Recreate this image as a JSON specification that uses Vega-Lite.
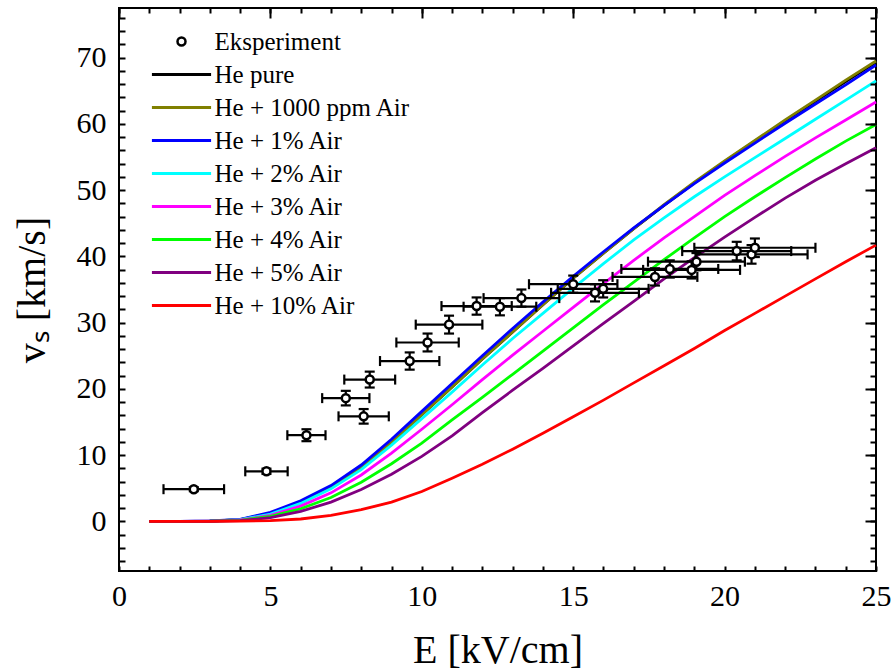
{
  "$schema": "https://vega.github.io/schema/vega-lite/v6.json",
  "width": 757,
  "height": 563,
  "autosize": {"type": "none"},
  "padding": {"left": 119, "top": 8, "right": 17, "bottom": 99},
  "background": "white",
  "config": {
    "view": {"stroke": "black", "strokeWidth": 2},
    "axis": {"zindex": 1, "domain": false, "grid": false, "tickColor": "black", "tickWidth": 2, "labelColor": "black", "titleColor": "black", "labelFont": "Liberation Serif", "titleFont": "Liberation Serif", "labelFontSize": 30, "titleFontSize": 40, "titleFontWeight": "normal"},
    "legend": {"labelFont": "Liberation Serif", "labelColor": "black"}
  },
  "datasets": {
    "curves": [
      {"series": "He pure", "E": 1, "v": 0}, {"series": "He pure", "E": 2, "v": 0}, {"series": "He pure", "E": 3, "v": 0.04}, {"series": "He pure", "E": 4, "v": 0.25}, {"series": "He pure", "E": 5, "v": 1.2}, {"series": "He pure", "E": 6, "v": 2.9}, {"series": "He pure", "E": 7, "v": 5.1}, {"series": "He pure", "E": 8, "v": 8.1}, {"series": "He pure", "E": 9, "v": 11.9}, {"series": "He pure", "E": 10, "v": 16.1}, {"series": "He pure", "E": 11, "v": 20.3}, {"series": "He pure", "E": 12, "v": 24.5}, {"series": "He pure", "E": 13, "v": 28.6}, {"series": "He pure", "E": 14, "v": 32.7}, {"series": "He pure", "E": 15, "v": 36.7}, {"series": "He pure", "E": 16, "v": 40.5}, {"series": "He pure", "E": 17, "v": 44.2}, {"series": "He pure", "E": 18, "v": 47.7}, {"series": "He pure", "E": 19, "v": 51.1}, {"series": "He pure", "E": 20, "v": 54.3}, {"series": "He pure", "E": 21, "v": 57.4}, {"series": "He pure", "E": 22, "v": 60.4}, {"series": "He pure", "E": 23, "v": 63.4}, {"series": "He pure", "E": 24, "v": 66.4}, {"series": "He pure", "E": 25, "v": 69.3},
      {"series": "He + 1000 ppm Air", "E": 1, "v": 0}, {"series": "He + 1000 ppm Air", "E": 2, "v": 0}, {"series": "He + 1000 ppm Air", "E": 3, "v": 0.04}, {"series": "He + 1000 ppm Air", "E": 4, "v": 0.25}, {"series": "He + 1000 ppm Air", "E": 5, "v": 1.2}, {"series": "He + 1000 ppm Air", "E": 6, "v": 2.9}, {"series": "He + 1000 ppm Air", "E": 7, "v": 5.1}, {"series": "He + 1000 ppm Air", "E": 8, "v": 8.1}, {"series": "He + 1000 ppm Air", "E": 9, "v": 11.9}, {"series": "He + 1000 ppm Air", "E": 10, "v": 16.1}, {"series": "He + 1000 ppm Air", "E": 11, "v": 20.3}, {"series": "He + 1000 ppm Air", "E": 12, "v": 24.5}, {"series": "He + 1000 ppm Air", "E": 13, "v": 28.6}, {"series": "He + 1000 ppm Air", "E": 14, "v": 32.7}, {"series": "He + 1000 ppm Air", "E": 15, "v": 36.7}, {"series": "He + 1000 ppm Air", "E": 16, "v": 40.5}, {"series": "He + 1000 ppm Air", "E": 17, "v": 44.2}, {"series": "He + 1000 ppm Air", "E": 18, "v": 47.8}, {"series": "He + 1000 ppm Air", "E": 19, "v": 51.2}, {"series": "He + 1000 ppm Air", "E": 20, "v": 54.4}, {"series": "He + 1000 ppm Air", "E": 21, "v": 57.5}, {"series": "He + 1000 ppm Air", "E": 22, "v": 60.6}, {"series": "He + 1000 ppm Air", "E": 23, "v": 63.6}, {"series": "He + 1000 ppm Air", "E": 24, "v": 66.6}, {"series": "He + 1000 ppm Air", "E": 25, "v": 69.5},
      {"series": "He + 1% Air", "E": 1, "v": 0}, {"series": "He + 1% Air", "E": 2, "v": 0}, {"series": "He + 1% Air", "E": 3, "v": 0.05}, {"series": "He + 1% Air", "E": 4, "v": 0.3}, {"series": "He + 1% Air", "E": 5, "v": 1.35}, {"series": "He + 1% Air", "E": 6, "v": 3.1}, {"series": "He + 1% Air", "E": 7, "v": 5.4}, {"series": "He + 1% Air", "E": 8, "v": 8.5}, {"series": "He + 1% Air", "E": 9, "v": 12.4}, {"series": "He + 1% Air", "E": 10, "v": 16.6}, {"series": "He + 1% Air", "E": 11, "v": 20.8}, {"series": "He + 1% Air", "E": 12, "v": 25.0}, {"series": "He + 1% Air", "E": 13, "v": 29.1}, {"series": "He + 1% Air", "E": 14, "v": 33.1}, {"series": "He + 1% Air", "E": 15, "v": 37.0}, {"series": "He + 1% Air", "E": 16, "v": 40.7}, {"series": "He + 1% Air", "E": 17, "v": 44.3}, {"series": "He + 1% Air", "E": 18, "v": 47.7}, {"series": "He + 1% Air", "E": 19, "v": 51.0}, {"series": "He + 1% Air", "E": 20, "v": 54.1}, {"series": "He + 1% Air", "E": 21, "v": 57.1}, {"series": "He + 1% Air", "E": 22, "v": 60.1}, {"series": "He + 1% Air", "E": 23, "v": 63.0}, {"series": "He + 1% Air", "E": 24, "v": 65.9}, {"series": "He + 1% Air", "E": 25, "v": 68.9},
      {"series": "He + 2% Air", "E": 1, "v": 0}, {"series": "He + 2% Air", "E": 2, "v": 0}, {"series": "He + 2% Air", "E": 3, "v": 0.03}, {"series": "He + 2% Air", "E": 4, "v": 0.25}, {"series": "He + 2% Air", "E": 5, "v": 1.1}, {"series": "He + 2% Air", "E": 6, "v": 2.7}, {"series": "He + 2% Air", "E": 7, "v": 4.9}, {"series": "He + 2% Air", "E": 8, "v": 7.8}, {"series": "He + 2% Air", "E": 9, "v": 11.5}, {"series": "He + 2% Air", "E": 10, "v": 15.5}, {"series": "He + 2% Air", "E": 11, "v": 19.5}, {"series": "He + 2% Air", "E": 12, "v": 23.6}, {"series": "He + 2% Air", "E": 13, "v": 27.6}, {"series": "He + 2% Air", "E": 14, "v": 31.4}, {"series": "He + 2% Air", "E": 15, "v": 35.2}, {"series": "He + 2% Air", "E": 16, "v": 38.9}, {"series": "He + 2% Air", "E": 17, "v": 42.5}, {"series": "He + 2% Air", "E": 18, "v": 45.8}, {"series": "He + 2% Air", "E": 19, "v": 49.0}, {"series": "He + 2% Air", "E": 20, "v": 52.0}, {"series": "He + 2% Air", "E": 21, "v": 54.9}, {"series": "He + 2% Air", "E": 22, "v": 57.8}, {"series": "He + 2% Air", "E": 23, "v": 60.7}, {"series": "He + 2% Air", "E": 24, "v": 63.6}, {"series": "He + 2% Air", "E": 25, "v": 66.5},
      {"series": "He + 3% Air", "E": 1, "v": 0}, {"series": "He + 3% Air", "E": 2, "v": 0}, {"series": "He + 3% Air", "E": 3, "v": 0.02}, {"series": "He + 3% Air", "E": 4, "v": 0.2}, {"series": "He + 3% Air", "E": 5, "v": 0.9}, {"series": "He + 3% Air", "E": 6, "v": 2.3}, {"series": "He + 3% Air", "E": 7, "v": 4.3}, {"series": "He + 3% Air", "E": 8, "v": 7.0}, {"series": "He + 3% Air", "E": 9, "v": 10.3}, {"series": "He + 3% Air", "E": 10, "v": 13.9}, {"series": "He + 3% Air", "E": 11, "v": 17.6}, {"series": "He + 3% Air", "E": 12, "v": 21.4}, {"series": "He + 3% Air", "E": 13, "v": 25.1}, {"series": "He + 3% Air", "E": 14, "v": 28.7}, {"series": "He + 3% Air", "E": 15, "v": 32.3}, {"series": "He + 3% Air", "E": 16, "v": 35.9}, {"series": "He + 3% Air", "E": 17, "v": 39.4}, {"series": "He + 3% Air", "E": 18, "v": 42.8}, {"series": "He + 3% Air", "E": 19, "v": 46.0}, {"series": "He + 3% Air", "E": 20, "v": 49.2}, {"series": "He + 3% Air", "E": 21, "v": 52.2}, {"series": "He + 3% Air", "E": 22, "v": 55.1}, {"series": "He + 3% Air", "E": 23, "v": 57.9}, {"series": "He + 3% Air", "E": 24, "v": 60.6}, {"series": "He + 3% Air", "E": 25, "v": 63.3},
      {"series": "He + 4% Air", "E": 1, "v": 0}, {"series": "He + 4% Air", "E": 2, "v": 0}, {"series": "He + 4% Air", "E": 3, "v": 0.02}, {"series": "He + 4% Air", "E": 4, "v": 0.15}, {"series": "He + 4% Air", "E": 5, "v": 0.75}, {"series": "He + 4% Air", "E": 6, "v": 1.9}, {"series": "He + 4% Air", "E": 7, "v": 3.6}, {"series": "He + 4% Air", "E": 8, "v": 5.9}, {"series": "He + 4% Air", "E": 9, "v": 8.7}, {"series": "He + 4% Air", "E": 10, "v": 11.8}, {"series": "He + 4% Air", "E": 11, "v": 15.3}, {"series": "He + 4% Air", "E": 12, "v": 18.7}, {"series": "He + 4% Air", "E": 13, "v": 22.2}, {"series": "He + 4% Air", "E": 14, "v": 25.7}, {"series": "He + 4% Air", "E": 15, "v": 29.2}, {"series": "He + 4% Air", "E": 16, "v": 32.7}, {"series": "He + 4% Air", "E": 17, "v": 36.1}, {"series": "He + 4% Air", "E": 18, "v": 39.5}, {"series": "He + 4% Air", "E": 19, "v": 42.8}, {"series": "He + 4% Air", "E": 20, "v": 46.0}, {"series": "He + 4% Air", "E": 21, "v": 49.0}, {"series": "He + 4% Air", "E": 22, "v": 51.9}, {"series": "He + 4% Air", "E": 23, "v": 54.7}, {"series": "He + 4% Air", "E": 24, "v": 57.4}, {"series": "He + 4% Air", "E": 25, "v": 59.9},
      {"series": "He + 5% Air", "E": 1, "v": 0}, {"series": "He + 5% Air", "E": 2, "v": 0}, {"series": "He + 5% Air", "E": 3, "v": 0.01}, {"series": "He + 5% Air", "E": 4, "v": 0.1}, {"series": "He + 5% Air", "E": 5, "v": 0.55}, {"series": "He + 5% Air", "E": 6, "v": 1.5}, {"series": "He + 5% Air", "E": 7, "v": 2.9}, {"series": "He + 5% Air", "E": 8, "v": 4.8}, {"series": "He + 5% Air", "E": 9, "v": 7.1}, {"series": "He + 5% Air", "E": 10, "v": 9.8}, {"series": "He + 5% Air", "E": 11, "v": 12.9}, {"series": "He + 5% Air", "E": 12, "v": 16.4}, {"series": "He + 5% Air", "E": 13, "v": 19.8}, {"series": "He + 5% Air", "E": 14, "v": 23.1}, {"series": "He + 5% Air", "E": 15, "v": 26.5}, {"series": "He + 5% Air", "E": 16, "v": 29.9}, {"series": "He + 5% Air", "E": 17, "v": 33.2}, {"series": "He + 5% Air", "E": 18, "v": 36.6}, {"series": "He + 5% Air", "E": 19, "v": 39.8}, {"series": "He + 5% Air", "E": 20, "v": 42.9}, {"series": "He + 5% Air", "E": 21, "v": 45.9}, {"series": "He + 5% Air", "E": 22, "v": 48.8}, {"series": "He + 5% Air", "E": 23, "v": 51.5}, {"series": "He + 5% Air", "E": 24, "v": 54.0}, {"series": "He + 5% Air", "E": 25, "v": 56.4},
      {"series": "He + 10% Air", "E": 1, "v": 0}, {"series": "He + 10% Air", "E": 2, "v": 0}, {"series": "He + 10% Air", "E": 3, "v": 0}, {"series": "He + 10% Air", "E": 4, "v": 0.02}, {"series": "He + 10% Air", "E": 5, "v": 0.1}, {"series": "He + 10% Air", "E": 6, "v": 0.35}, {"series": "He + 10% Air", "E": 7, "v": 0.9}, {"series": "He + 10% Air", "E": 8, "v": 1.75}, {"series": "He + 10% Air", "E": 9, "v": 2.9}, {"series": "He + 10% Air", "E": 10, "v": 4.5}, {"series": "He + 10% Air", "E": 11, "v": 6.5}, {"series": "He + 10% Air", "E": 12, "v": 8.6}, {"series": "He + 10% Air", "E": 13, "v": 10.9}, {"series": "He + 10% Air", "E": 14, "v": 13.3}, {"series": "He + 10% Air", "E": 15, "v": 15.8}, {"series": "He + 10% Air", "E": 16, "v": 18.3}, {"series": "He + 10% Air", "E": 17, "v": 20.9}, {"series": "He + 10% Air", "E": 18, "v": 23.5}, {"series": "He + 10% Air", "E": 19, "v": 26.1}, {"series": "He + 10% Air", "E": 20, "v": 28.8}, {"series": "He + 10% Air", "E": 21, "v": 31.4}, {"series": "He + 10% Air", "E": 22, "v": 34.0}, {"series": "He + 10% Air", "E": 23, "v": 36.6}, {"series": "He + 10% Air", "E": 24, "v": 39.2}, {"series": "He + 10% Air", "E": 25, "v": 41.7}
    ],
    "exp": [
      {"E": 2.47, "v": 4.85, "Elo": 1.47, "Ehi": 3.47, "vlo": 4.55, "vhi": 5.15},
      {"E": 4.87, "v": 7.55, "Elo": 4.17, "Ehi": 5.57, "vlo": 7.15, "vhi": 7.95},
      {"E": 6.19, "v": 13.0, "Elo": 5.56, "Ehi": 6.82, "vlo": 12.1, "vhi": 13.9},
      {"E": 7.49, "v": 18.6, "Elo": 6.71, "Ehi": 8.27, "vlo": 17.5, "vhi": 19.7},
      {"E": 8.08, "v": 15.85, "Elo": 7.25, "Ehi": 8.91, "vlo": 14.75, "vhi": 16.95},
      {"E": 8.28, "v": 21.4, "Elo": 7.44, "Ehi": 9.12, "vlo": 20.2, "vhi": 22.6},
      {"E": 9.6, "v": 24.2, "Elo": 8.62, "Ehi": 10.58, "vlo": 22.9, "vhi": 25.5},
      {"E": 10.19, "v": 27.0, "Elo": 9.16, "Ehi": 11.22, "vlo": 25.65, "vhi": 28.35},
      {"E": 10.9, "v": 29.7, "Elo": 9.8, "Ehi": 12.0, "vlo": 28.35, "vhi": 31.05},
      {"E": 11.81, "v": 32.5, "Elo": 10.65, "Ehi": 12.97, "vlo": 31.2, "vhi": 33.8},
      {"E": 12.58, "v": 32.4, "Elo": 11.38, "Ehi": 13.78, "vlo": 31.1, "vhi": 33.7},
      {"E": 13.29, "v": 33.7, "Elo": 12.04, "Ehi": 14.54, "vlo": 32.4, "vhi": 35.0},
      {"E": 15.0, "v": 35.8, "Elo": 13.54, "Ehi": 16.46, "vlo": 34.5, "vhi": 37.1},
      {"E": 15.72, "v": 34.5, "Elo": 14.27, "Ehi": 17.17, "vlo": 33.2, "vhi": 35.8},
      {"E": 15.99, "v": 35.1, "Elo": 14.49, "Ehi": 17.49, "vlo": 33.8, "vhi": 36.4},
      {"E": 17.7, "v": 36.9, "Elo": 16.3, "Ehi": 19.1, "vlo": 35.6, "vhi": 38.2},
      {"E": 18.19, "v": 38.1, "Elo": 16.59, "Ehi": 19.79, "vlo": 36.8, "vhi": 39.4},
      {"E": 18.91, "v": 37.96, "Elo": 17.31, "Ehi": 20.51, "vlo": 36.66, "vhi": 39.26},
      {"E": 19.07, "v": 39.2, "Elo": 17.47, "Ehi": 20.67, "vlo": 37.9, "vhi": 40.5},
      {"E": 20.4, "v": 40.8, "Elo": 18.6, "Ehi": 22.2, "vlo": 39.4, "vhi": 42.2},
      {"E": 20.89, "v": 40.3, "Elo": 19.04, "Ehi": 22.74, "vlo": 38.9, "vhi": 41.7},
      {"E": 21.0, "v": 41.3, "Elo": 19.0, "Ehi": 23.0, "vlo": 39.9, "vhi": 42.7}
    ]
  },
  "layer": [
    {
      "data": {"name": "curves"},
      "mark": {"type": "line", "strokeWidth": 2.8},
      "encoding": {
        "x": {"field": "E", "type": "quantitative", "scale": {"domain": [0, 25], "nice": false, "zero": false},
          "axis": {"orient": "bottom", "zindex": 1, "values": [0,1,2,3,4,5,6,7,8,9,10,11,12,13,14,15,16,17,18,19,20,21,22,23,24,25],
            "labelExpr": "datum.value % 5 === 0 ? datum.label : ''", "tickSize": -5,
            "labelPadding": 15, "labelFlush": false, "labelOverlap": false,
            "title": "E [kV/cm]", "titlePadding": 19}},
        "y": {"field": "v", "type": "quantitative", "scale": {"domain": [-7.5, 77.5], "nice": false, "zero": false},
          "axis": {"orient": "left", "zindex": 1, "values": [-6,-4,-2,0,2,4,6,8,10,12,14,16,18,20,22,24,26,28,30,32,34,36,38,40,42,44,46,48,50,52,54,56,58,60,62,64,66,68,70,72,74,76],
            "labelExpr": "datum.value % 10 === 0 ? datum.label : ''", "tickSize": -6,
            "labelPadding": 19, "labelFlush": false, "labelOverlap": false,
            "title": "vₛ [km/s]", "titlePadding": 24}},
        "stroke": {"field": "series", "type": "nominal",
          "scale": {"domain": ["Eksperiment", "He pure", "He + 1000 ppm Air", "He + 1% Air", "He + 2% Air", "He + 3% Air", "He + 4% Air", "He + 5% Air", "He + 10% Air"],
                    "range": ["black", "black", "#808000", "#0000ff", "#00ffff", "#ff00ff", "#00ff00", "#800080", "#ff0000"]},
          "legend": {"title": null, "orient": "none", "legendX": 50, "legendY": 21, "padding": 0,
            "labelFont": "Liberation Serif", "labelFontSize": 25, "labelLimit": 0, "labelOffset": 20.5, "rowPadding": 7, "symbolStrokeWidth": 3,
            "encode": {"symbols": {"update": {
              "shape": {"signal": "datum.value === 'Eksperiment' ? 'circle' : 'stroke'"},
              "size": {"signal": "datum.value === 'Eksperiment' ? 64 : 3500"},
              "fill": {"signal": "datum.value === 'Eksperiment' ? 'white' : 'transparent'"},
              "strokeWidth": {"signal": "datum.value === 'Eksperiment' ? 2.5 : 3"}
            }}}}}
      }
    },
    {
      "data": {"name": "exp"},
      "mark": {"type": "point", "opacity": 0},
      "encoding": {
        "x": {"field": "E", "type": "quantitative",
          "axis": {"orient": "top", "zindex": 1, "values": [0,1,2,3,4,5,6,7,8,9,10,11,12,13,14,15,16,17,18,19,20,21,22,23,24,25],
            "labels": false, "title": null, "tickSize": -5}},
        "y": {"field": "v", "type": "quantitative",
          "axis": {"orient": "right", "zindex": 1, "values": [-6,-4,-2,0,2,4,6,8,10,12,14,16,18,20,22,24,26,28,30,32,34,36,38,40,42,44,46,48,50,52,54,56,58,60,62,64,66,68,70,72,74,76],
            "labels": false, "title": null, "tickSize": -6}}
      }
    },
    {
      "data": {"name": "exp"},
      "mark": {"type": "point", "opacity": 0},
      "encoding": {
        "x": {"field": "E", "type": "quantitative",
          "axis": {"orient": "top", "zindex": 1, "values": [0, 5, 10, 15, 20, 25], "labels": false, "title": null, "tickSize": -10}},
        "y": {"field": "v", "type": "quantitative",
          "axis": {"orient": "right", "zindex": 1, "values": [0, 10, 20, 30, 40, 50, 60, 70], "labels": false, "title": null, "tickSize": -11}}
      }
    },
    {
      "data": {"name": "exp"},
      "mark": {"type": "rule", "color": "black", "strokeWidth": 2.2},
      "encoding": {
        "x": {"field": "Elo", "type": "quantitative", "axis": null},
        "x2": {"field": "Ehi"},
        "y": {"field": "v", "type": "quantitative", "axis": null}
      }
    },
    {
      "data": {"name": "exp"},
      "mark": {"type": "rule", "color": "black", "strokeWidth": 2.2},
      "encoding": {
        "x": {"field": "E", "type": "quantitative", "axis": null},
        "y": {"field": "vlo", "type": "quantitative", "axis": null},
        "y2": {"field": "vhi"}
      }
    },
    {
      "data": {"name": "exp"},
      "mark": {"type": "point", "shape": "M0,-1L0,1", "filled": false, "color": "black", "opacity": 1, "size": 100, "strokeWidth": 2.2},
      "encoding": {
        "x": {"field": "Elo", "type": "quantitative", "axis": null},
        "y": {"field": "v", "type": "quantitative", "axis": null}
      }
    },
    {
      "data": {"name": "exp"},
      "mark": {"type": "point", "shape": "M0,-1L0,1", "filled": false, "color": "black", "opacity": 1, "size": 100, "strokeWidth": 2.2},
      "encoding": {
        "x": {"field": "Ehi", "type": "quantitative", "axis": null},
        "y": {"field": "v", "type": "quantitative", "axis": null}
      }
    },
    {
      "data": {"name": "exp"},
      "mark": {"type": "point", "shape": "M-1,0L1,0", "filled": false, "color": "black", "opacity": 1, "size": 100, "strokeWidth": 2.2},
      "encoding": {
        "x": {"field": "E", "type": "quantitative", "axis": null},
        "y": {"field": "vlo", "type": "quantitative", "axis": null}
      }
    },
    {
      "data": {"name": "exp"},
      "mark": {"type": "point", "shape": "M-1,0L1,0", "filled": false, "color": "black", "opacity": 1, "size": 100, "strokeWidth": 2.2},
      "encoding": {
        "x": {"field": "E", "type": "quantitative", "axis": null},
        "y": {"field": "vhi", "type": "quantitative", "axis": null}
      }
    },
    {
      "data": {"name": "exp"},
      "mark": {"type": "point", "shape": "circle", "filled": false, "fill": "white", "fillOpacity": 1, "opacity": 1, "size": 64, "strokeWidth": 2.5},
      "encoding": {
        "x": {"field": "E", "type": "quantitative", "axis": null},
        "y": {"field": "v", "type": "quantitative", "axis": null},
        "stroke": {"datum": "Eksperiment", "type": "nominal"}
      }
    }
  ],
  "resolve": {"axis": {"x": "independent", "y": "independent"}}
}
